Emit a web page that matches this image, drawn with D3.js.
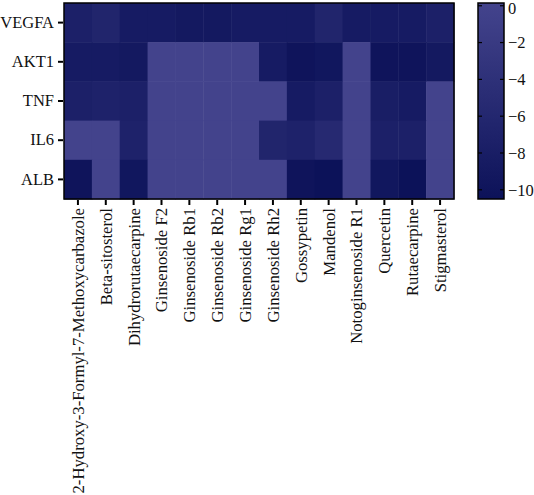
<!DOCTYPE html>
<html><head><meta charset="utf-8">
<script src="https://cdn.jsdelivr.net/npm/d3@7"></script>
<style>body{margin:0;background:#fff}svg text{font-family:"Liberation Serif","DejaVu Serif",serif;fill:#111;font-size:16.5px}</style>
</head><body><svg id="c" width="534" height="495"></svg>
<script>
const genes = ["VEGFA","AKT1","TNF","IL6","ALB"];
const compounds = ["2-Hydroxy-3-Formyl-7-Methoxycarbazole","Beta-sitosterol","Dihydrorutaecarpine","Ginsenoside F2","Ginsenoside Rb1","Ginsenoside Rb2","Ginsenoside Rg1","Ginsenoside Rh2","Gossypetin","Mandenol","Notoginsenoside R1","Quercetin","Rutaecarpine","Stigmasterol"];
// values per gene row, one per compound
const VEGFA = [-7.5,-6.5,-8.5,-8.5,-9,-9,-8.5,-8.5,-8.5,-6.5,-8.5,-8.5,-8.5,-7.5];
const AKT1  = [-8.5,-8.5,-9,0,0,0,0,-8.5,-10,-9.5,0,-10,-10,-9];
const TNF   = [-7.5,-7,-7.5,0,0,0,0,0,-8.5,-7.5,0,-8,-8.5,0];
const IL6   = [0,0,-7,0,0,0,0,-6.5,-7,-5.5,0,-7.5,-7.5,0];
const ALB   = [-10,0,-9.5,0,0,0,0,0,-10,-10.5,0,-9.5,-10.5,0];
const colorTicks = [0,-2,-4,-6,-8,-10];
const rows = [VEGFA,AKT1,TNF,IL6,ALB];

const svg = d3.select("#c");
const L=64,R=454,T=3,B=199;
const x = d3.scaleBand().domain(compounds).range([L,R]);
const y = d3.scaleBand().domain(genes).range([T,B]);
const color = d3.scaleLinear().domain([0,-10.5]).range(["#43438c","#0c1259"]).interpolate(d3.interpolateRgb);

const cells=[];
genes.forEach((g,i)=>compounds.forEach((c,j)=>cells.push({g,c,v:rows[i][j]})));
svg.append("g").selectAll("rect").data(cells).join("rect")
 .attr("x",d=>x(d.c)).attr("y",d=>y(d.g)).attr("width",x.bandwidth()+0.5).attr("height",y.bandwidth()+0.5)
 .attr("fill",d=>color(d.v));
svg.append("rect").attr("x",L).attr("y",T).attr("width",R-L).attr("height",B-T).attr("fill","none").attr("stroke","#000").attr("stroke-width",1.5);

const ya = svg.append("g").attr("transform",`translate(${L-1},0)`).call(d3.axisLeft(y).tickSize(5).tickPadding(4));
ya.attr("font-family",null).attr("font-size",null);
ya.select(".domain").remove();
ya.selectAll("line").attr("stroke","#000").attr("stroke-width",2);

const xa = svg.append("g").attr("transform",`translate(0,${B+1})`).call(d3.axisBottom(x).tickSize(5).tickPadding(3));
xa.attr("font-family",null).attr("font-size",null);
xa.select(".domain").remove();
xa.selectAll("line").attr("stroke","#000").attr("stroke-width",2);
xa.selectAll("text").style("font-size","16.7px")
 .attr("transform","rotate(-90)").attr("text-anchor","end").attr("dy","0.35em").attr("x",-8).attr("y",0);

// colorbar
const CL=478,CR=504,CT=3,CB=199;
const cy = d3.scaleLinear().domain([0.15,-10.5]).range([CT,CB]);
const defs=svg.append("defs");
const grad=defs.append("linearGradient").attr("id","g").attr("x1",0).attr("x2",0).attr("y1",0).attr("y2",1);
d3.range(0,11).forEach(k=>{const v=0.15-10.65*k/10;grad.append("stop").attr("offset",k/10).attr("stop-color",color(Math.min(0,v)));});
svg.append("rect").attr("x",CL).attr("y",CT).attr("width",CR-CL).attr("height",CB-CT).attr("fill","url(#g)").attr("stroke","#000").attr("stroke-width",1.5);
const ca = svg.append("g").attr("transform",`translate(${CR},0)`).call(d3.axisRight(cy).tickValues(colorTicks).tickSize(0).tickPadding(4).tickFormat(d3.format("")));
ca.attr("font-family",null).attr("font-size",null);
ca.select(".domain").remove();
ca.selectAll("text").attr("dy",d=>d===0?"0.45em":"0.32em");
svg.append("g").selectAll("line").data(colorTicks).join("line").attr("x1",CL).attr("x2",CL+4).attr("y1",d=>cy(d)).attr("y2",d=>cy(d)).attr("stroke","#000").attr("stroke-width",1.2);
svg.append("g").selectAll("line").data(colorTicks).join("line").attr("x1",CR-4).attr("x2",CR).attr("y1",d=>cy(d)).attr("y2",d=>cy(d)).attr("stroke","#000").attr("stroke-width",1.2);
</script></body></html>
